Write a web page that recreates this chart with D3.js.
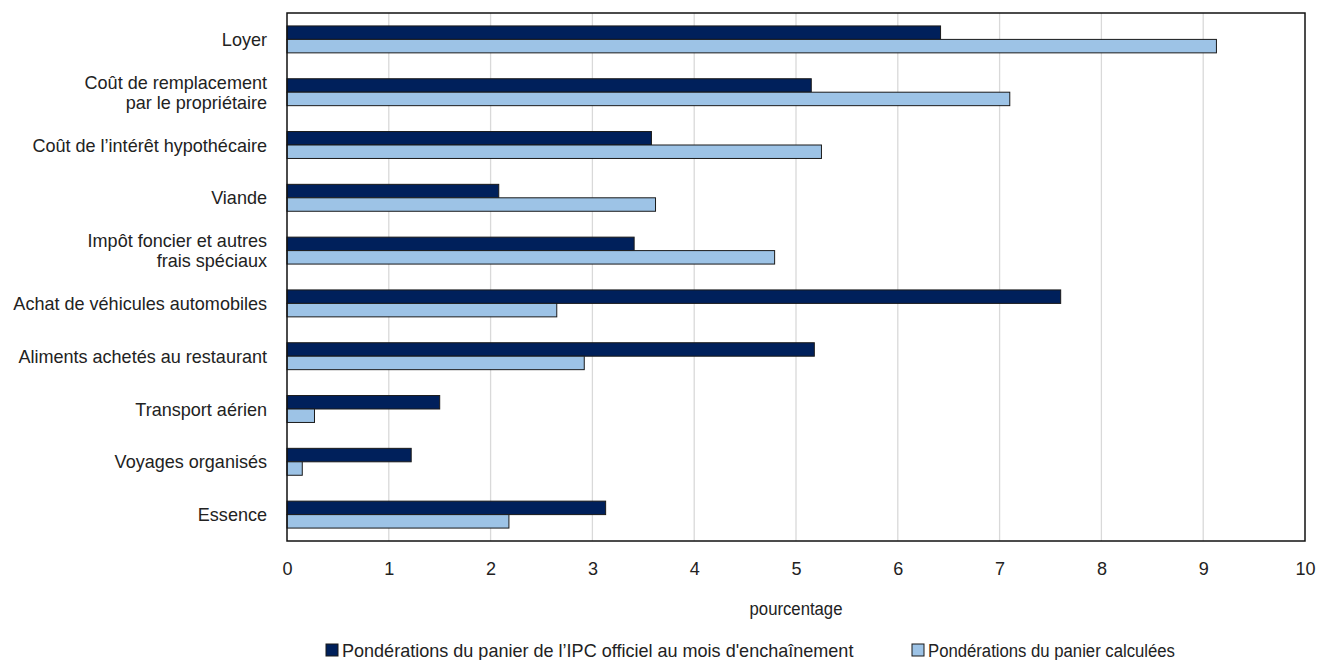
<!DOCTYPE html>
<html>
<head>
<meta charset="utf-8">
<script src="https://cdn.jsdelivr.net/npm/d3@7"></script>
<style>
  body { margin: 0; background: #fff; }
  text { font-family: "Liberation Sans Narrow", "Arial Narrow", "Liberation Sans", sans-serif; fill: #222; }
</style>
</head>
<body>
<script>
// categories (top to bottom), label lines
var categories = [
    ["Loyer"],
    ["Coût de remplacement", "par le propriétaire"],
    ["Coût de l’intérêt hypothécaire"],
    ["Viande"],
    ["Impôt foncier et autres", "frais spéciaux"],
    ["Achat de véhicules automobiles"],
    ["Aliments achetés au restaurant"],
    ["Transport aérien"],
    ["Voyages organisés"],
    ["Essence"]
];
var seriesNames = ["Pondérations du panier de l’IPC officiel au mois d'enchaînement", "Pondérations du panier calculées"];
var officiel = [6.42, 5.15, 3.58, 2.08, 3.41, 7.60, 5.18, 1.50, 1.22, 3.13];
var calculees = [9.13, 7.10, 5.25, 3.62, 4.79, 2.65, 2.92, 0.27, 0.15, 2.18];
var xTicks = [0, 1, 2, 3, 4, 5, 6, 7, 8, 9, 10];
var colors = ["#00205b", "#9dc3e6"];

var fontSize = 19,
    squeeze = "scale(0.95,1)";   // condensed look

var margin = { top: 13, right: 12, bottom: 119, left: 287 },
    width = 1317 - margin.left - margin.right,
    height = 660 - margin.top - margin.bottom;

var svg = d3.select("body")
    .append("svg")
    .attr("width", 1317)
    .attr("height", 660);

var g = svg.append("g")
    .attr("transform", "translate(" + margin.left + "," + margin.top + ")");

var x = d3.scaleLinear()
    .domain([0, 10])
    .range([0, width]);

var y = d3.scaleBand()
    .domain(d3.range(categories.length))
    .range([0, height])
    .paddingInner(0.49)
    .paddingOuter(0.245);

var ySub = d3.scaleBand()
    .domain([0, 1])
    .range([0, y.bandwidth()]);

// gridlines
g.append("g")
    .selectAll("line")
    .data(xTicks.slice(1, -1))
    .enter().append("line")
    .attr("x1", function (d) { return x(d); })
    .attr("x2", function (d) { return x(d); })
    .attr("y1", 0)
    .attr("y2", height)
    .attr("stroke", "#d9d9d9")
    .attr("stroke-width", 1.3);

// bars
var groups = g.append("g")
    .selectAll("g")
    .data(categories)
    .enter().append("g")
    .attr("transform", function (d, i) { return "translate(0," + y(i) + ")"; });

groups.selectAll("rect")
    .data(function (d, i) { return [officiel[i], calculees[i]]; })
    .enter().append("rect")
    .attr("x", x(0))
    .attr("y", function (d, j) { return ySub(j); })
    .attr("width", function (d) { return x(d) - x(0); })
    .attr("height", ySub.bandwidth())
    .attr("fill", function (d, j) { return colors[j]; })
    .attr("stroke", "#1a1a1a")
    .attr("stroke-width", 1);

// frame
g.append("rect")
    .attr("x", 0)
    .attr("y", 0)
    .attr("width", width)
    .attr("height", height)
    .attr("fill", "none")
    .attr("stroke", "#111")
    .attr("stroke-width", 1.5);

// category labels
var labels = g.append("g")
    .selectAll("text")
    .data(categories)
    .enter().append("text")
    .attr("text-anchor", "end")
    .attr("font-size", fontSize)
    .attr("transform", function (d, i) {
        return "translate(-20," + (y(i) + y.bandwidth() / 2) + ") " + squeeze;
    });

labels.selectAll("tspan")
    .data(function (d) { return d.map(function (t, k) { return { t: t, k: k, n: d.length }; }); })
    .enter().append("tspan")
    .attr("x", 0)
    .attr("y", function (d) { return (d.k - (d.n - 1) / 2) * 20; })
    .attr("dy", "0.35em")
    .text(function (d) { return d.t; });

// x axis labels
var xAxis = g.append("g")
    .attr("transform", "translate(0," + height + ")")
    .call(d3.axisBottom(x).tickValues(xTicks).tickSize(0).tickPadding(21).tickFormat(d3.format("d")));
xAxis.select(".domain").remove();
xAxis.selectAll("text")
    .attr("font-size", fontSize)
    .attr("font-family", "Liberation Sans Narrow, Arial Narrow, Liberation Sans, sans-serif")
    .attr("fill", "#222")
    .attr("transform", squeeze);

g.append("text")
    .attr("transform", "translate(" + (width / 2) + "," + (height + 67) + ") scale(0.88,1)")
    .attr("text-anchor", "middle")
    .attr("dy", "0.35em")
    .attr("font-size", fontSize)
    .text("pourcentage");

// legend
var legendX = [326, 912],
    legendSqueeze = ["scale(0.95,1)", "scale(0.88,1)"];
var legend = svg.append("g")
    .selectAll("g")
    .data(seriesNames)
    .enter().append("g")
    .attr("transform", function (d, i) { return "translate(" + legendX[i] + ",650)"; });

legend.append("rect")
    .attr("x", 0)
    .attr("y", -6)
    .attr("width", 12)
    .attr("height", 12)
    .attr("fill", function (d, i) { return colors[i]; })
    .attr("stroke", "#1a1a1a")
    .attr("stroke-width", 1);

legend.append("text")
    .attr("transform", function (d, i) { return "translate(16,0) " + legendSqueeze[i]; })
    .attr("dy", "0.35em")
    .attr("font-size", fontSize)
    .text(function (d) { return d; });
</script>
</body>
</html>
